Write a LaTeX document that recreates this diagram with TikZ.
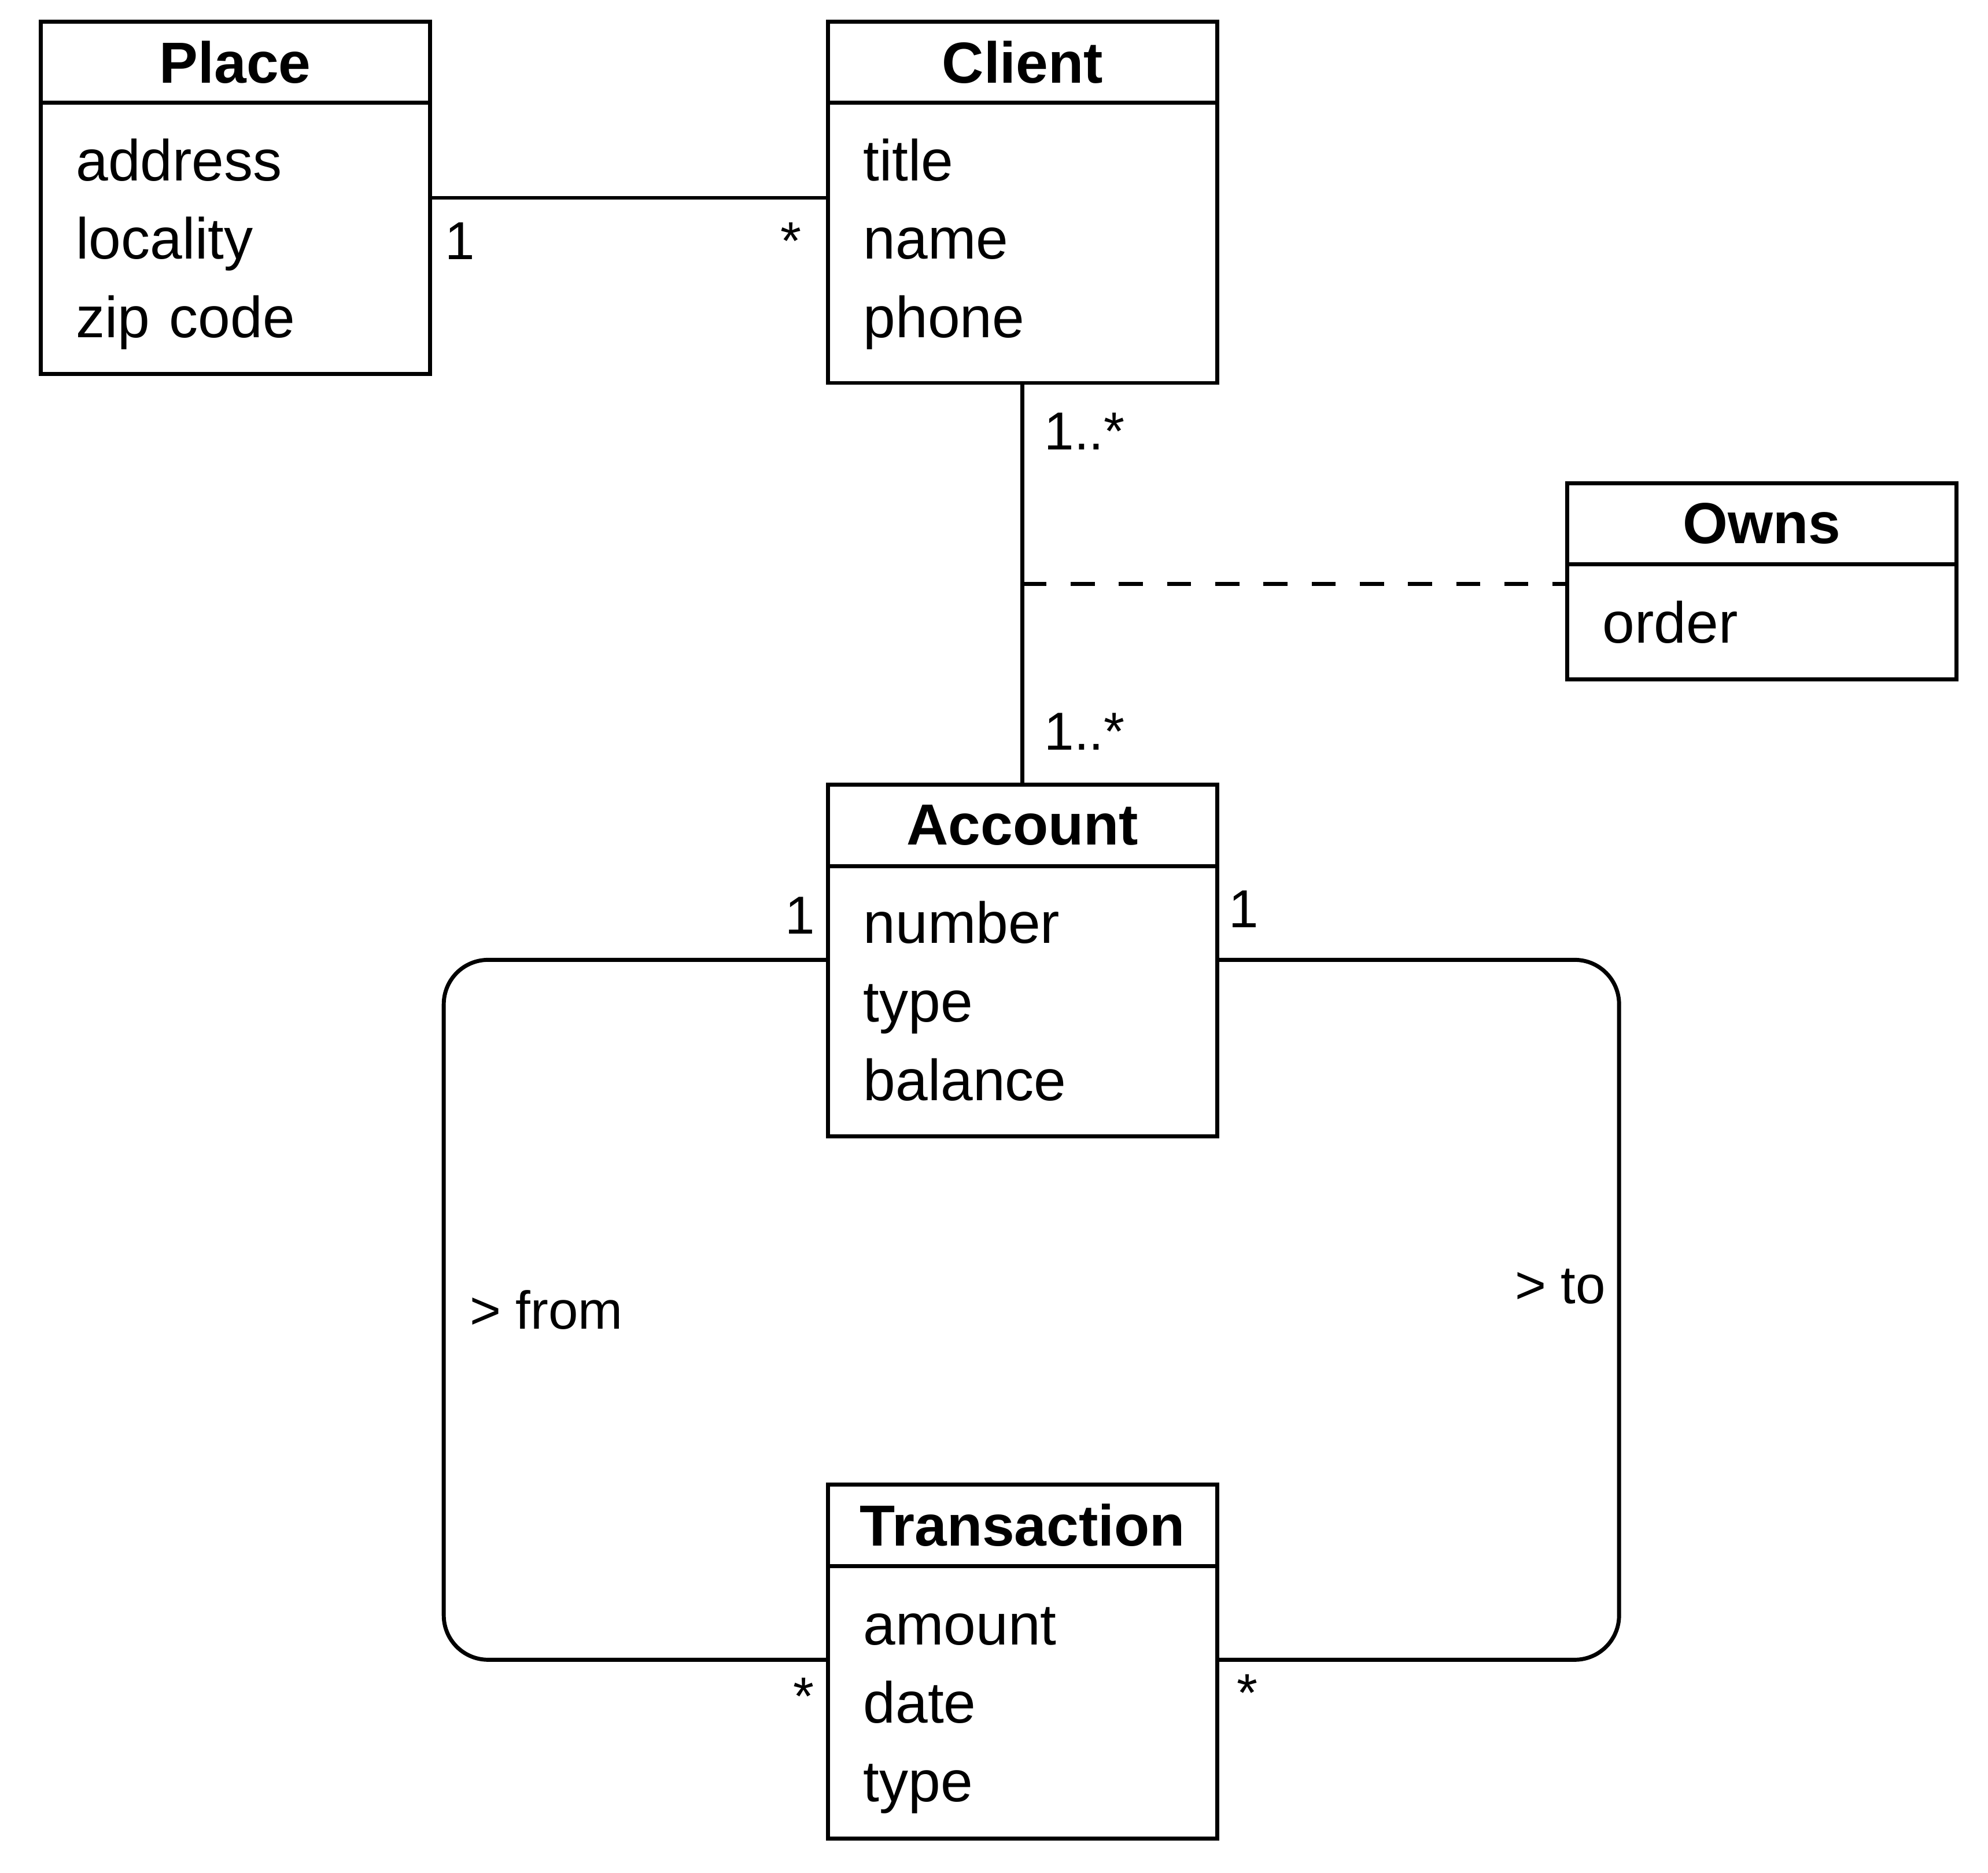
\documentclass[tikz,border=0pt]{standalone}
\usepackage{fontspec}
\setmainfont{Liberation Sans}
\usetikzlibrary{positioning, calc}

\begin{document}
\begin{tikzpicture}[font=\fontsize{13}{17.6}\selectfont, line width=0.9pt]
        \tikzstyle{head} = [rectangle, draw, minimum width=3.07cm, minimum height=0.64cm, inner sep=0pt, outer sep=0pt, font=\fontsize{13}{17.6}\selectfont\bfseries]
        \tikzstyle{attrs} = [rectangle, draw, text width=2.51cm, inner xsep=0.28cm, inner ysep=0pt, outer sep=0pt, align=left, minimum height=2.15cm,
            execute at begin node={\rule{0pt}{12pt}}, execute at end node={\rule[-2.7pt]{0pt}{0pt}}]
        \tikzstyle{line} = [rounded corners=0.35cm]
        \tikzstyle{link} = [dash pattern=on 0.19cm off 0.19cm]
        \tikzstyle{mult} = [inner sep=0pt, font=\fontsize{12}{14}\selectfont]
        \useasboundingbox (0,0) rectangle (15.68,-14.77);

        % classes
        \node (place) [head, anchor=north west] at (0.32,-0.17) {Place};
        \node [below=0pt of place] (place-a) [attrs, minimum height=2.14cm] {address\\ locality\\ zip code};
        \node (client) [head, anchor=north west] at (6.53,-0.17) {Client};
        \node [below=0pt of client] (client-a) [attrs, minimum height=2.21cm, execute at end node={\rule[-4.7pt]{0pt}{0pt}}] {title\\ name\\ phone};
        \node (owns) [head, anchor=north west] at (12.36,-3.81) {Owns};
        \node [below=0pt of owns] (owns-a) [attrs, minimum height=0.91cm] {order};
        \node [below=3.17cm of client-a] (account) [head] {Account};
        \node [below=0pt of account] (account-a) [attrs, minimum height=2.13cm] {number\\ type\\ balance};
        \node [below=2.75cm of account-a] (trans) [head] {Transaction};
        \node [below=0pt of trans] (trans-a) [attrs] {amount\\ date\\ type};

        \coordinate (place-mid) at ($(place.north east)!0.5!(place-a.south east)$);
        \coordinate (own-pt) at ($(client-a.south)!0.5!(account.north)$);
        \coordinate (acc-l) at ([yshift=-0.74cm]account-a.north west);
        \coordinate (acc-r) at ([yshift=-0.74cm]account-a.north east);
        \coordinate (tr-l) at ([yshift=-0.74cm]trans-a.north west);
        \coordinate (tr-r) at ([yshift=-0.74cm]trans-a.north east);
        \coordinate (from-x) at (3.50,0);
        \coordinate (to-x) at (12.77,0);

        % associations
        \draw (place-mid) -- (place-mid -| client-a.west);
        \draw (client-a) -- (account);
        \draw [link] (own-pt) -- (own-pt -| owns.west);
        \draw [line] (acc-l) -- (acc-l -| from-x) -- node [mult, right=0.19cm] (lbl-from) {> from} (tr-l -| from-x) -- (tr-l);
        \draw [line] (acc-r) -- (acc-r -| to-x) -- node [mult, pos=0.467, left=0.09cm] (lbl-to) {> to} (tr-r -| to-x) -- (tr-r);

        % multiplicities
        \node (m-place) [mult] at ($(place-mid)+(0.24,-0.34)$) {1};
        \node (m-client) [mult] at ($(place-mid -| client-a.west)+(-0.29,-0.34)$) {*};
        \node (m-own-c) [mult] at ($(client-a.south)+(0.49,-0.38)$) {1..*};
        \node (m-own-a) [mult] at ($(account.north)+(0.49,0.42)$) {1..*};
        \node (m-from-a) [mult] at ($(acc-l)+(-0.22,0.35)$) {1};
        \node (m-to-a) [mult] at ($(acc-r)+(0.21,0.40)$) {1};
        \node (m-from-t) [mult] at ($(tr-l)+(-0.19,-0.29)$) {*};
        \node (m-to-t) [mult] at ($(tr-r)+(0.24,-0.26)$) {*};
\end{tikzpicture}
\end{document}
